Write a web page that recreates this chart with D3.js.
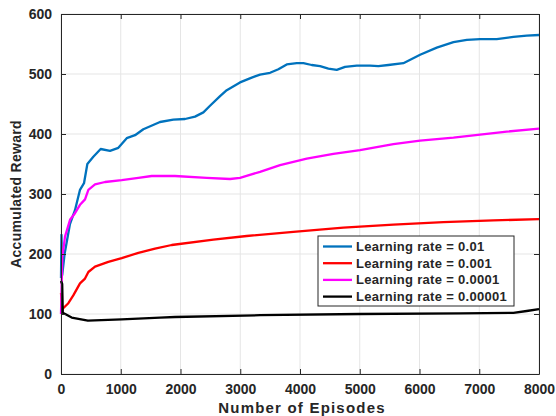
<!DOCTYPE html>
<html>
<head>
<meta charset="utf-8">
<script src="https://cdn.jsdelivr.net/npm/d3@7"></script>
<style>
  body { margin: 0; background: #fff; }
  text { font-family: "Liberation Sans", Arial, sans-serif; fill: #262626; }
</style>
</head>
<body>
<div id="chart"></div>
<script>
// Axis configuration
const X_TICKS = [0, 1000, 2000, 3000, 4000, 5000, 6000, 7000, 8000];
const Y_TICKS = [0, 100, 200, 300, 400, 500, 600];

// Series labels and colours
const SERIES_LABELS = ["Learning rate = 0.01", "Learning rate = 0.001", "Learning rate = 0.0001", "Learning rate = 0.00001"];
const SERIES_COLORS = ["#0072BD", "#FF0000", "#FF00FF", "#000000"];

// Series values [episode, reward]
const lr001 = [[0, 160], [8, 232], [20, 165], [60, 200], [150, 250], [234, 273], [318, 307], [385, 318], [441, 350],
  [541, 362], [664, 375], [820, 372], [960, 377], [1100, 393], [1239, 398], [1378, 408], [1657, 420], [1880, 424],
  [2076, 425], [2243, 429], [2383, 436], [2494, 447], [2662, 463], [2774, 473], [2996, 486], [3192, 494], [3331, 499],
  [3499, 502], [3638, 508], [3778, 516], [3946, 518], [4057, 518], [4196, 515], [4336, 513], [4475, 509], [4615, 507],
  [4754, 512], [4950, 514], [5172, 514], [5312, 513], [5479, 515], [5730, 518], [6010, 532], [6289, 544], [6568, 553],
  [6792, 557], [7014, 558], [7293, 558], [7572, 562], [7795, 564], [8000, 565]];

const lr0001 = [[0, 135], [20, 108], [123, 118], [206, 131], [318, 151], [402, 159], [458, 170], [569, 179], [792, 187],
  [1016, 193], [1295, 202], [1574, 209], [1853, 215], [2550, 224], [3108, 230], [3889, 237], [4726, 244], [5563, 249],
  [6400, 253], [7237, 256], [8000, 258]];

const lr00001 = [[0, 100], [22, 195], [67, 229], [151, 257], [234, 268], [318, 282], [402, 291], [458, 307], [569, 316],
  [737, 320], [1016, 323], [1295, 327], [1518, 330], [1908, 330], [2439, 327], [2829, 325], [2996, 327], [3331, 337],
  [3666, 348], [4113, 359], [4559, 367], [5005, 373], [5563, 383], [6010, 389], [6568, 394], [7014, 399], [7460, 404],
  [8000, 409]];

const lr000001 = [[0, 155], [20, 150], [30, 102], [179, 94], [450, 89], [1016, 91], [1657, 94], [1908, 95], [3331, 98],
  [5005, 100], [6680, 101], [7572, 102], [7795, 105], [8000, 108]];

const SERIES = [lr001, lr0001, lr00001, lr000001];

// Layout
const width = 556;
const height = 416;
const margin = { top: 14, right: 17, bottom: 42, left: 61 };
const innerW = width - margin.left - margin.right;
const innerH = height - margin.top - margin.bottom;

const svg = d3.select("#chart").append("svg")
  .attr("width", width)
  .attr("height", height);

const g = svg.append("g")
  .attr("transform", `translate(${margin.left},${margin.top})`);

const x = d3.scaleLinear().domain([0, 8000]).range([0, innerW]);
const y = d3.scaleLinear().domain([0, 600]).range([innerH, 0]);

// Grid
g.append("g")
  .selectAll("line")
  .data(X_TICKS)
  .join("line")
  .attr("x1", d => x(d)).attr("x2", d => x(d))
  .attr("y1", 0).attr("y2", innerH)
  .attr("stroke", "#e5e5e5");

g.append("g")
  .selectAll("line")
  .data(Y_TICKS)
  .join("line")
  .attr("y1", d => y(d)).attr("y2", d => y(d))
  .attr("x1", 0).attr("x2", innerW)
  .attr("stroke", "#e5e5e5");

// Lines
const line = d3.line()
  .x(d => x(d[0]))
  .y(d => y(d[1]));

SERIES.forEach((s, i) => {
  g.append("path")
    .datum(s)
    .attr("fill", "none")
    .attr("stroke", SERIES_COLORS[i])
    .attr("stroke-width", 2.3)
    .attr("stroke-linejoin", "round")
    .attr("d", line);
});

// Axes (ticks pointing inward, box on)
function styleAxis(sel) {
  sel.selectAll(".domain").attr("stroke", "#262626");
  sel.selectAll(".tick line").attr("stroke", "#262626");
  sel.selectAll(".tick text")
    .style("font-size", "14px")
    .style("font-weight", "bold")
    .attr("fill", "#262626");
}

g.append("g")
  .attr("transform", `translate(0,${innerH})`)
  .call(d3.axisBottom(x).tickValues(X_TICKS).tickFormat(d3.format("d")).tickSizeInner(-5).tickSizeOuter(0).tickPadding(10))
  .call(styleAxis);

g.append("g")
  .call(d3.axisTop(x).tickValues(X_TICKS).tickFormat("").tickSizeInner(-5).tickSizeOuter(0))
  .call(styleAxis);

g.append("g")
  .call(d3.axisLeft(y).tickValues(Y_TICKS).tickSizeInner(-5).tickSizeOuter(0).tickPadding(9))
  .call(styleAxis);

g.append("g")
  .attr("transform", `translate(${innerW},0)`)
  .call(d3.axisRight(y).tickValues(Y_TICKS).tickFormat("").tickSizeInner(-5).tickSizeOuter(0))
  .call(styleAxis);

// Axis labels
svg.append("text")
  .attr("x", margin.left + innerW / 2 + 2)
  .attr("y", 413)
  .attr("text-anchor", "middle")
  .style("font-size", "15px")
  .style("font-weight", "bold")
  .style("letter-spacing", "1.2px")
  .text("Number of Episodes");

svg.append("text")
  .attr("transform", `translate(21,${margin.top + innerH / 2}) rotate(-90)`)
  .attr("text-anchor", "middle")
  .style("font-size", "14px")
  .style("font-weight", "bold")
  .style("letter-spacing", "0.3px")
  .text("Accumulated Reward");

// Legend
const legend = svg.append("g").attr("transform", "translate(318,236)");

legend.append("rect")
  .attr("width", 196)
  .attr("height", 70)
  .attr("fill", "#fff")
  .attr("stroke", "#262626")
  .attr("stroke-width", 1);

SERIES_LABELS.forEach((label, i) => {
  const rowY = 10.5 + i * 16.7;
  legend.append("line")
    .attr("x1", 5).attr("x2", 34)
    .attr("y1", rowY).attr("y2", rowY)
    .attr("stroke", SERIES_COLORS[i])
    .attr("stroke-width", 2.3);
  legend.append("text")
    .attr("x", 38)
    .attr("y", rowY + 4.5)
    .style("font-size", "13px")
    .style("font-weight", "bold")
    .style("letter-spacing", "0.3px")
    .attr("fill", "#000")
    .text(label);
});
</script>
</body>
</html>
